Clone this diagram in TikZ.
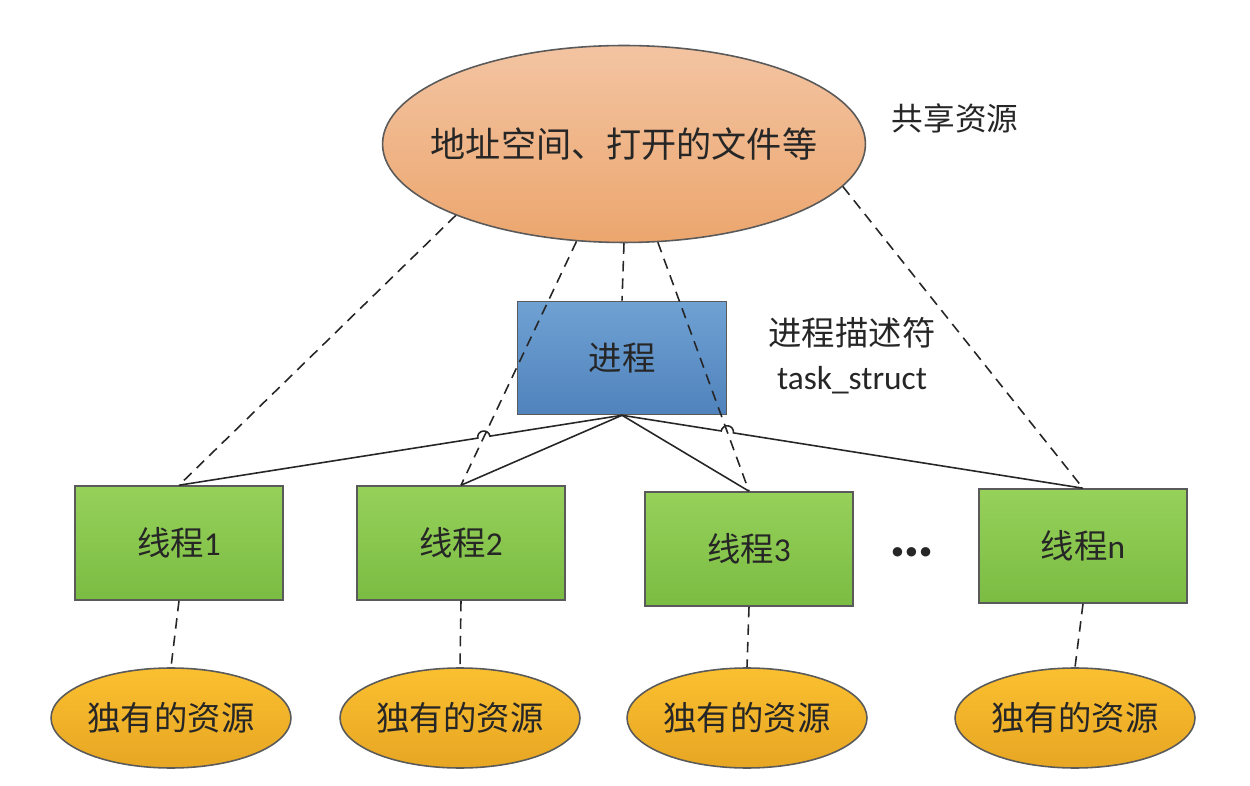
\documentclass[tikz,border=0pt]{standalone}
\usepackage{fontspec}
\setmainfont{Carlito}
\newfontfamily\cjk{Noto Sans CJK SC}
\usetikzlibrary{shapes,calc,intersections}
\definecolor{fg}{HTML}{262626}
\definecolor{edge}{HTML}{5A5A5A}
\definecolor{resTop}{HTML}{F3C4A2}
\definecolor{resBot}{HTML}{ECA66E}
\definecolor{procTop}{HTML}{6FA1D3}
\definecolor{procBot}{HTML}{5083BC}
\definecolor{thrTop}{HTML}{96D15A}
\definecolor{thrBot}{HTML}{7BBC43}
\definecolor{ownTop}{HTML}{FBC030}
\definecolor{ownBot}{HTML}{E7A623}
\tikzstyle{shared}=[ellipse, draw=edge, line width=0.9pt, top color=resTop, bottom color=resBot,
minimum width=9.66cm, minimum height=3.94cm, inner sep=0pt]
\tikzstyle{restext}=[text=fg, font=\cjk\fontsize{20}{24}\selectfont]
\tikzstyle{proc}=[rectangle, draw=edge, line width=0.9pt, top color=procTop, bottom color=procBot,
minimum width=4.18cm, minimum height=2.26cm, text=fg, font=\cjk\fontsize{19}{23}\selectfont]
\tikzstyle{thread}=[rectangle, draw=edge, line width=0.9pt, top color=thrTop, bottom color=thrBot,
minimum width=4.16cm, minimum height=2.28cm, text=fg, font=\fontsize{19}{23}\selectfont]
\tikzstyle{own}=[ellipse, draw=edge, line width=0.9pt, top color=ownTop, bottom color=ownBot,
minimum width=4.8cm, minimum height=2.0cm, inner sep=0pt, text=fg, font=\cjk\fontsize{19}{23}\selectfont]
\tikzstyle{note}=[text=fg, font=\fontsize{19}{25}\selectfont, align=center]
\tikzstyle{link}=[line width=0.9pt, draw=fg]
\tikzstyle{share}=[link, dash pattern=on 6pt off 4pt]

\begin{document}
\begin{tikzpicture}[x=0.02cm, y=-0.02cm]
    \useasboundingbox (0,0) rectangle (1250,786);

    \node[shared] (res) at (624,144) {};
    \node[restext] (restxt) at (res) {地址空间、打开的文件等};
    \node[note, font=\cjk\fontsize{18}{22}\selectfont] (reslabel) at (955,118) {共享资源};

    \node[proc] (proc) at (622,358) {进程};
    \node[note] (desc) at (852,356) {{\cjk 进程描述符}\\task\_struct};

    \node[thread] (t1) at (179,543) {{\cjk 线程}1};
    \node[thread] (t2) at (461,543) {{\cjk 线程}2};
    \node[thread] (t3) at (749,549) {{\cjk 线程}3};
    \node[thread] (tn) at (1083,546) {{\cjk 线程}n};
    \node[text=fg, font=\fontsize{36}{36}\bfseries\selectfont] (dots) at (912,552) {…};

    \node[own] (own1) at (171,718) {独有的资源};
    \node[own] (own2) at (460,718) {独有的资源};
    \node[own] (own3) at (747,718) {独有的资源};
    \node[own] (own4) at (1075,718) {独有的资源};

    % shared resources
    \draw[share] (res.south) -- (proc.north);
    \draw[share] (res.203.6) -- (t1.north);
    \draw[share, name path=d2] (res.244) -- (t2.north);
    \draw[share, name path=d3] (res.289.6) -- (t3.north);
    \draw[share] (res.349.3) -- (tn.north);

    % process to threads
    \path[name path=s1] (proc.south) -- (t1.north);
    \path[name path=sn] (proc.south) -- (tn.north);
    \path[name intersections={of=d2 and s1, by=h1}];
    \path[name intersections={of=d3 and sn, by=h2}];
    \draw[link] (proc.south) -- ($(h1)!3.5pt!(proc.south)$) arc[start angle=9.3, end angle=189.3, radius=3.5pt] -- (t1.north);
    \draw[link] (proc.south) -- (t2.north);
    \draw[link] (proc.south) -- (t3.north);
    \draw[link] (proc.south) -- ($(h2)!3.5pt!(proc.south)$) arc[start angle=171.1, end angle=-8.9, radius=3.5pt] -- (tn.north);

    % own resources
    \draw[share] (t1.south) -- (own1.north);
    \draw[share] (t2.south) -- (own2.north);
    \draw[share] (t3.south) -- (own3.north);
    \draw[share] (tn.south) -- (own4.north);
\end{tikzpicture}
\end{document}
